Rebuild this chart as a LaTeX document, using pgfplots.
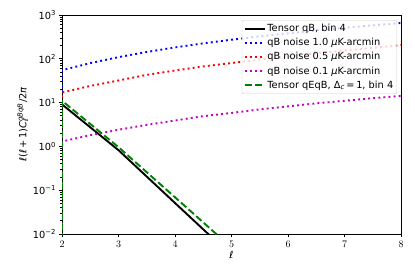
\documentclass[border=0pt]{standalone}
\usepackage{fontspec}
\setmainfont{DejaVu Sans}
\usepackage{pgfplots}
\pgfplotsset{compat=1.18}
\definecolor{mplgreen}{rgb}{0,0.5,0}
\definecolor{mplmag}{rgb}{0.75,0,0.75}
\begin{document}
\begin{tikzpicture}[font=\fontsize{9.8}{11.5}\selectfont]
\begin{axis}[
  scale only axis, width=339pt, height=219pt,
  ymode=log, xmin=2, xmax=8, ymin=1e-2, ymax=1e3,
  xtick={2,3,4,5,6,7,8},
  ytick={1e-2,1e-1,1,10,100,1000},
  yticklabels={10\textsuperscript{−2},10\textsuperscript{−1},10\textsuperscript{0},10\textsuperscript{1},10\textsuperscript{2},10\textsuperscript{3}},
  minor ytick={2e-2,3e-2,4e-2,5e-2,6e-2,7e-2,8e-2,9e-2,2e-1,3e-1,4e-1,5e-1,6e-1,7e-1,8e-1,9e-1,2,3,4,5,6,7,8,9,20,30,40,50,60,70,80,90,200,300,400,500,600,700,800,900},
  tick align=outside, xtick pos=left, ytick pos=left,
  major tick length=3.4pt, minor tick length=1.9pt,
  every tick/.style={black, line width=0.75pt},
  axis line style={line width=0.75pt},
  yticklabel style={xshift=1pt},
  xlabel={\textit{ℓ}},
  xlabel style={yshift=3pt},
  ylabel={\textit{ℓ}(\textit{ℓ}\,+\,1)\textit{C}\rlap{\textsubscript{\textit{ℓ}}}\textsuperscript{\textit{qBqB}}/2\textit{π}},
  ylabel style={yshift=-2pt},
  legend cell align=left,
  legend style={at={(0.988,0.977)}, anchor=north east, draw=black!20, rounded corners=2pt,
    fill=white, fill opacity=0.8, text opacity=1, font=\fontsize{9.8}{11.5}\selectfont,
    row sep=2.2pt, inner xsep=2pt, inner ysep=2.5pt, nodes={inner sep=1.5pt}},
  legend image code/.code={\draw[#1] (0pt,0pt) -- (20pt,0pt);},
]
\addplot[black, line width=1.9pt] coordinates {(2,1e-4) (2,9.1) (3,0.82) (4,0.051) (5,0.0032) (6,2e-4) (7,1.3e-5) (8,8e-7)};
\addlegendentry{Tensor qB, bin 4}
\addplot[blue, line width=1.9pt, line cap=butt, dash pattern=on 1.9pt off 3.2pt] coordinates {(2,1e-4) (2,55) (2.5,79.6) (3,109) (3.5,143) (4,182) (4.5,225) (5,273) (5.5,325) (6,382) (6.5,444) (7,510) (7.5,580) (8,655)};
\addlegendentry{qB noise 1.0 \textit{μ}K-arcmin}
\addplot[red, line width=1.9pt, line cap=butt, dash pattern=on 1.9pt off 3.2pt] coordinates {(2,1e-4) (2,17) (2.5,24) (3,32) (3.5,43) (4,54) (4.5,67) (5,80) (5.5,96) (6,113) (6.5,133) (7,155) (7.5,178) (8,205)};
\addlegendentry{qB noise 0.5 \textit{μ}K-arcmin}
\addplot[mplmag, line width=1.9pt, line cap=butt, dash pattern=on 1.9pt off 3.2pt] coordinates {(2,1e-4) (2,1.3) (2.5,1.8) (3,2.4) (3.5,3.1) (4,3.9) (4.5,4.9) (5,5.8) (5.5,7.0) (6,8.2) (6.5,9.6) (7,11.0) (7.5,12.6) (8,14.2)};
\addlegendentry{qB noise 0.1 \textit{μ}K-arcmin}
\addplot[mplgreen, line width=1.9pt, line cap=butt, dash pattern=on 7.1pt off 3.1pt] coordinates {(2,1e-4) (2,11) (3,0.96) (4,0.069) (5,0.0049) (6,3.5e-4) (7,2.5e-5) (8,1.8e-6)};
\addlegendentry{Tensor qEqB, Δ\textsubscript{\textit{c}}\,=\,1, bin 4}
\end{axis}
\path ([shift={(-62pt,-43pt)}]current axis.south west) rectangle ([shift={(14pt,15pt)}]current axis.north east);
\end{tikzpicture}
\end{document}
